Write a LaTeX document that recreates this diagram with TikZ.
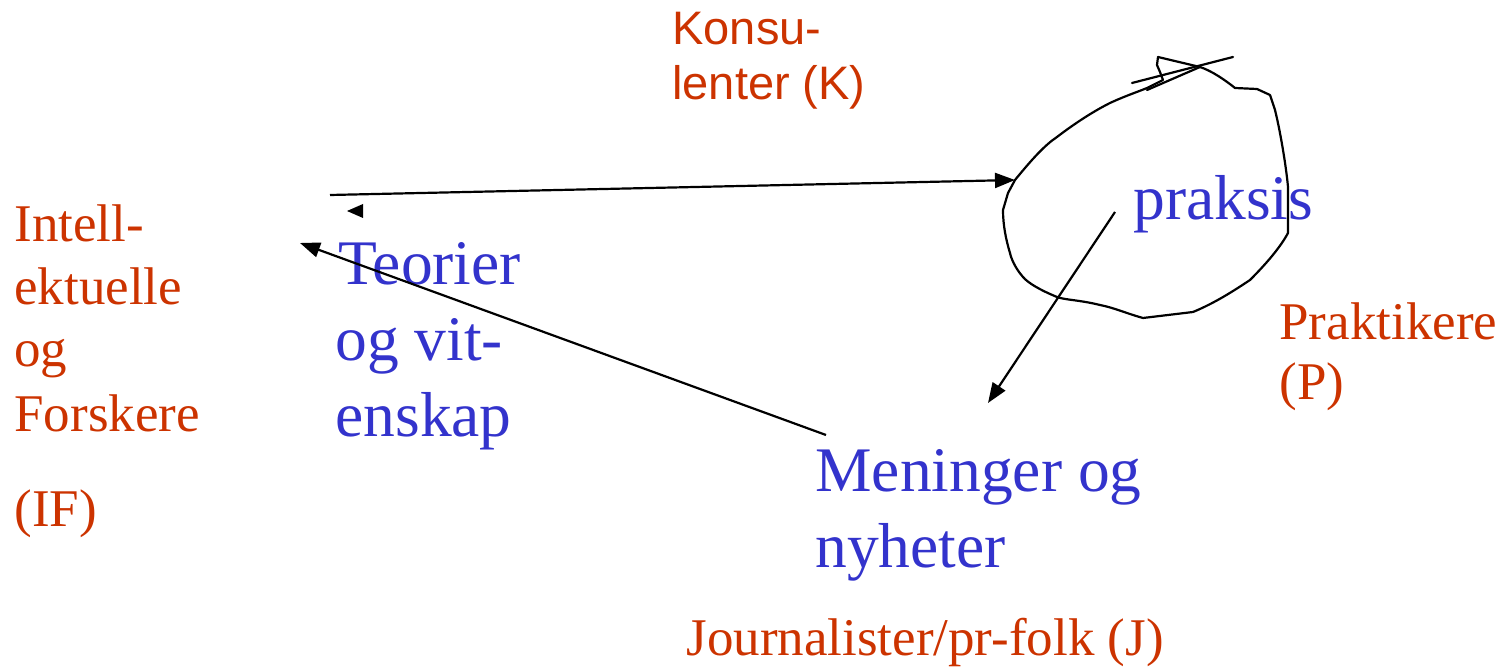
\documentclass[tikz,border=0pt]{standalone}
\usepackage{fontspec}
\setmainfont{Liberation Serif}
\newfontfamily\arialf{Liberation Sans}
\usetikzlibrary{arrows.meta}
\definecolor{lblred}{RGB}{204,51,0}
\definecolor{lblblue}{RGB}{51,51,204}
\begin{document}
\begin{tikzpicture}[x=0.5pt,y=-0.5pt,
  redtxt/.style={anchor=base west,inner sep=0pt,text=lblred,font=\fontsize{26.5}{31}\selectfont},
  redsans/.style={anchor=base west,inner sep=0pt,text=lblred,font=\arialf\fontsize{23.5}{28}\selectfont},
  bluetxt/.style={anchor=base west,inner sep=0pt,text=lblblue,font=\fontsize{31.75}{38}\selectfont},
  conn/.style={line width=1.1pt,-{Triangle[length=10pt,width=7.5pt]}},
  sketch/.style={line width=1.1pt,line join=round,line cap=round}]
\useasboundingbox (0,0) rectangle (1512,667);
% red labels
\node[redsans] (k1) at (672,45) {Konsu-};
\node[redsans] (k2) at (672,100) {lenter (K)};
\node[redtxt] (if1) at (14,242) {Intell-};
\node[redtxt] (if2) at (14,305) {ektuelle};
\node[redtxt] (if3) at (14,367) {og};
\node[redtxt] (if4) at (14,432) {Forskere};
\node[redtxt] (if5) at (14,527) {(IF)};
\node[redtxt] (p1) at (1279,340) {Praktikere};
\node[redtxt] (p2) at (1279,400) {(P)};
\node[redtxt] (j1) at (686,656) {Journalister/pr-folk (J)};
% blue labels
\node[bluetxt] (t1) at (338,285) {Teorier};
\node[bluetxt] (t2) at (335,361) {og vit-};
\node[bluetxt] (t3) at (335,437) {enskap};
\node[bluetxt] (pr) at (1133,220) {praksis};
\node[bluetxt] (m1) at (815,492) {Meninger og};
\node[bluetxt] (m2) at (815,568) {nyheter};
% blob
\coordinate (tip) at (1015,180);
\draw[sketch] (tip) .. controls (1033,158) and (1045,145) .. (1057,137)
  .. controls (1070,127) and (1090,113) .. (1110,103)
  .. controls (1125,96) and (1140,91) .. (1147,88)
  -- (1163,80) -- (1160,72) -- (1157,65) -- (1158,57) -- (1200,67)
  .. controls (1212,71) and (1225,80) .. (1235,88)
  -- (1257,89) -- (1270,95) -- (1275,110)
  .. controls (1280,130) and (1286,165) .. (1288,187)
  -- (1288,233)
  .. controls (1280,248) and (1265,265) .. (1250,280)
  .. controls (1235,290) and (1215,303) .. (1193,312)
  -- (1143,318)
  .. controls (1125,313) and (1115,308) .. (1100,305)
  .. controls (1080,300) and (1065,300) .. (1057,297)
  .. controls (1040,290) and (1028,283) .. (1023,277)
  .. controls (1015,268) and (1011,258) .. (1010,253)
  .. controls (1006,240) and (1003,225) .. (1003,210)
  -- (1008,193) -- cycle;
\draw[sketch] (1132,83) -- (1233,57);
\draw[sketch] (1147,90) -- (1200,67);
% arrows
\coordinate (a1s) at (330,195);
\coordinate (a3s) at (826,435);
\coordinate (a3e) at (300,243);
\coordinate (a4s) at (1115,212);
\coordinate (a4e) at (988,403);
\draw[conn] (a1s) -- (tip);
\draw[conn] (a3s) -- (a3e);
\draw[conn] (a4s) -- (a4e);
% isolated arrowhead
\coordinate (ah) at (347,211);
\fill (ah) -- (363,204) -- (363,218) -- cycle;
\end{tikzpicture}
\end{document}
